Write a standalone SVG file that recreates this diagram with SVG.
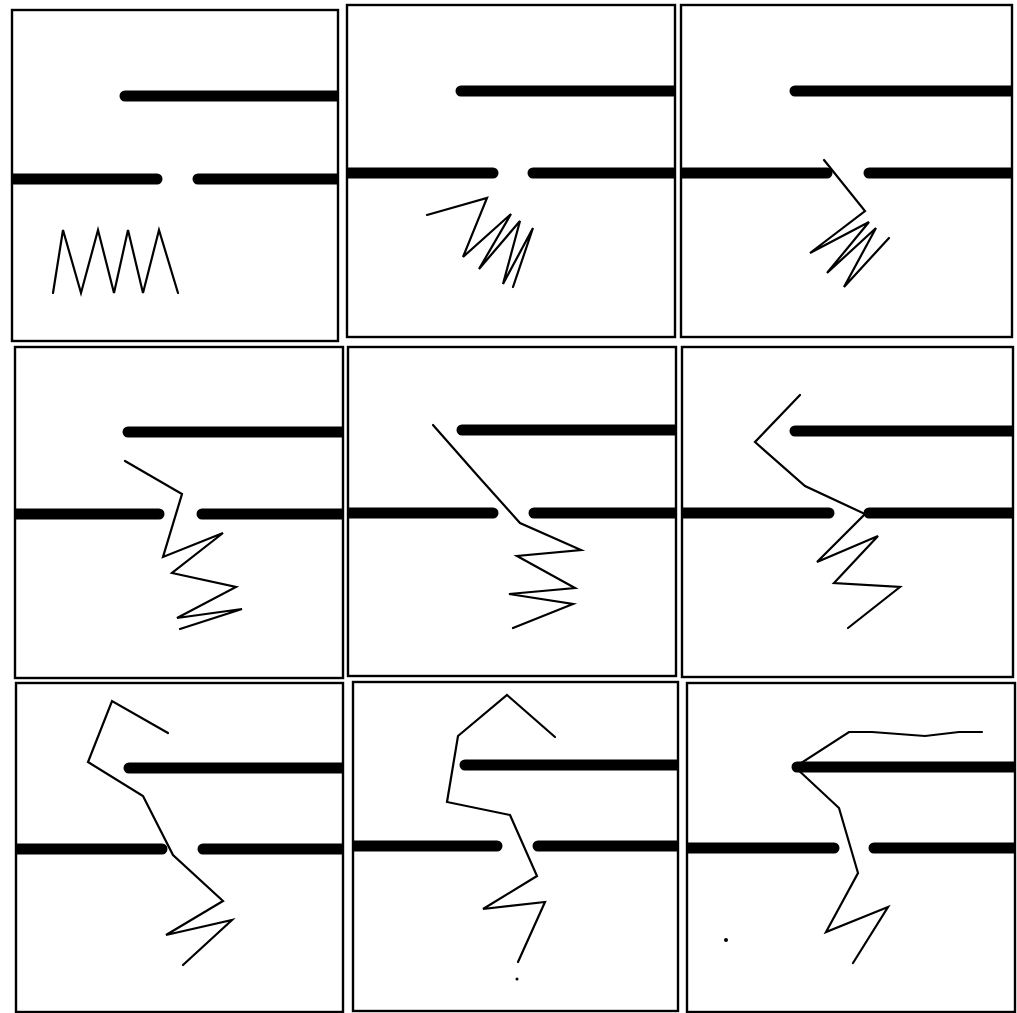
<svg xmlns="http://www.w3.org/2000/svg" width="1017" height="1013" viewBox="0 0 1017 1013">
<style>
.frame{fill:none;stroke:#000;stroke-width:2.4}
.bar{stroke:#000;stroke-width:11;stroke-linecap:round;fill:none}
.path{fill:none;stroke:#000;stroke-width:2.2;stroke-linejoin:miter;stroke-linecap:round}
</style>
<defs>
<clipPath id="c1"><rect x="12" y="10" width="326" height="331"/></clipPath>
<clipPath id="c2"><rect x="347" y="5" width="328" height="332"/></clipPath>
<clipPath id="c3"><rect x="681" y="5" width="331" height="332"/></clipPath>
<clipPath id="c4"><rect x="15" y="347" width="328" height="331"/></clipPath>
<clipPath id="c5"><rect x="348" y="347" width="328" height="329"/></clipPath>
<clipPath id="c6"><rect x="682" y="347" width="331" height="330"/></clipPath>
<clipPath id="c7"><rect x="16" y="683" width="327" height="329"/></clipPath>
<clipPath id="c8"><rect x="353" y="682" width="325" height="329"/></clipPath>
<clipPath id="c9"><rect x="687" y="683" width="328" height="329"/></clipPath>
</defs>
<rect width="1017" height="1013" fill="#fff"/>

<g id="panel1">
<g clip-path="url(#c1)">
<line class="bar" x1="125" y1="96" x2="350" y2="96"/>
<line class="bar" x1="0" y1="179" x2="157" y2="179"/>
<line class="bar" x1="198" y1="179" x2="350" y2="179"/>
</g>
<rect class="frame" x="12" y="10" width="326" height="331"/>
<polyline class="path" points="53,293 63,230 81,293 98,230 114,293 128,230 143,293 159,230 178,293"/>
</g>

<g id="panel2">
<g clip-path="url(#c2)">
<line class="bar" x1="461" y1="91" x2="690" y2="91"/>
<line class="bar" x1="330" y1="173" x2="493" y2="173"/>
<line class="bar" x1="533" y1="173" x2="690" y2="173"/>
</g>
<rect class="frame" x="347" y="5" width="328" height="332"/>
<polyline class="path" points="427,215 487,198 463,257 511,214 479,269 520,221 503,284 533,228 513,287"/>
</g>

<g id="panel3">
<g clip-path="url(#c3)">
<line class="bar" x1="795" y1="91" x2="1030" y2="91"/>
<line class="bar" x1="660" y1="173" x2="827" y2="173"/>
<line class="bar" x1="869" y1="173" x2="1030" y2="173"/>
</g>
<rect class="frame" x="681" y="5" width="331" height="332"/>
<polyline class="path" points="824,160 865,211 810,253 869,222 827,273 876,228 844,287 889,238"/>
</g>

<g id="panel4">
<g clip-path="url(#c4)">
<line class="bar" x1="128" y1="432" x2="360" y2="432"/>
<line class="bar" x1="0" y1="514" x2="159" y2="514"/>
<line class="bar" x1="202" y1="514" x2="360" y2="514"/>
</g>
<rect class="frame" x="15" y="347" width="328" height="331"/>
<polyline class="path" points="125,461 182,494 163,557 223,533 172,573 236,587 177,618 242,609 180,629"/>
</g>

<g id="panel5">
<g clip-path="url(#c5)">
<line class="bar" x1="462" y1="430" x2="690" y2="430"/>
<line class="bar" x1="330" y1="513" x2="493" y2="513"/>
<line class="bar" x1="534" y1="513" x2="690" y2="513"/>
</g>
<rect class="frame" x="348" y="347" width="328" height="329"/>
<polyline class="path" points="433,425 477,475 520,523 581,550 517,556 575,588 509,594 573,604 513,628"/>
</g>

<g id="panel6">
<g clip-path="url(#c6)">
<line class="bar" x1="795" y1="431" x2="1030" y2="431"/>
<line class="bar" x1="660" y1="513" x2="829" y2="513"/>
<line class="bar" x1="869" y1="513" x2="1030" y2="513"/>
</g>
<rect class="frame" x="682" y="347" width="331" height="330"/>
<polyline class="path" points="800,395 755,442 805,486 865,514 817,562 878,536 834,583 900,587 848,628"/>
</g>

<g id="panel7">
<g clip-path="url(#c7)">
<line class="bar" x1="129" y1="768" x2="360" y2="768"/>
<line class="bar" x1="0" y1="849" x2="162" y2="849"/>
<line class="bar" x1="203" y1="849" x2="360" y2="849"/>
</g>
<rect class="frame" x="16" y="683" width="327" height="329"/>
<polyline class="path" points="168,733 112,701 88,762 143,796 173,855 223,901 166,935 232,920 183,965"/>
</g>

<g id="panel8">
<g clip-path="url(#c8)">
<line class="bar" x1="465" y1="765" x2="690" y2="765"/>
<line class="bar" x1="340" y1="846" x2="497" y2="846"/>
<line class="bar" x1="538" y1="846" x2="690" y2="846"/>
</g>
<rect class="frame" x="353" y="682" width="325" height="329"/>
<polyline class="path" points="555,737 507,695 458,736 447,802 510,815 537,876 483,909 545,902 518,962"/>
<circle cx="517" cy="979" r="1.5" fill="#000"/>
</g>

<g id="panel9">
<g clip-path="url(#c9)">
<line class="bar" x1="797" y1="767" x2="1030" y2="767"/>
<line class="bar" x1="670" y1="848" x2="834" y2="848"/>
<line class="bar" x1="874" y1="848" x2="1030" y2="848"/>
</g>
<rect class="frame" x="687" y="683" width="328" height="329"/>
<polyline class="path" points="982,732 959,732 925,736 872,732 849,732 795,767 839,808 858,873 826,932 888,907 853,963"/>
<circle cx="726" cy="940" r="2" fill="#000"/>
</g>
</svg>
